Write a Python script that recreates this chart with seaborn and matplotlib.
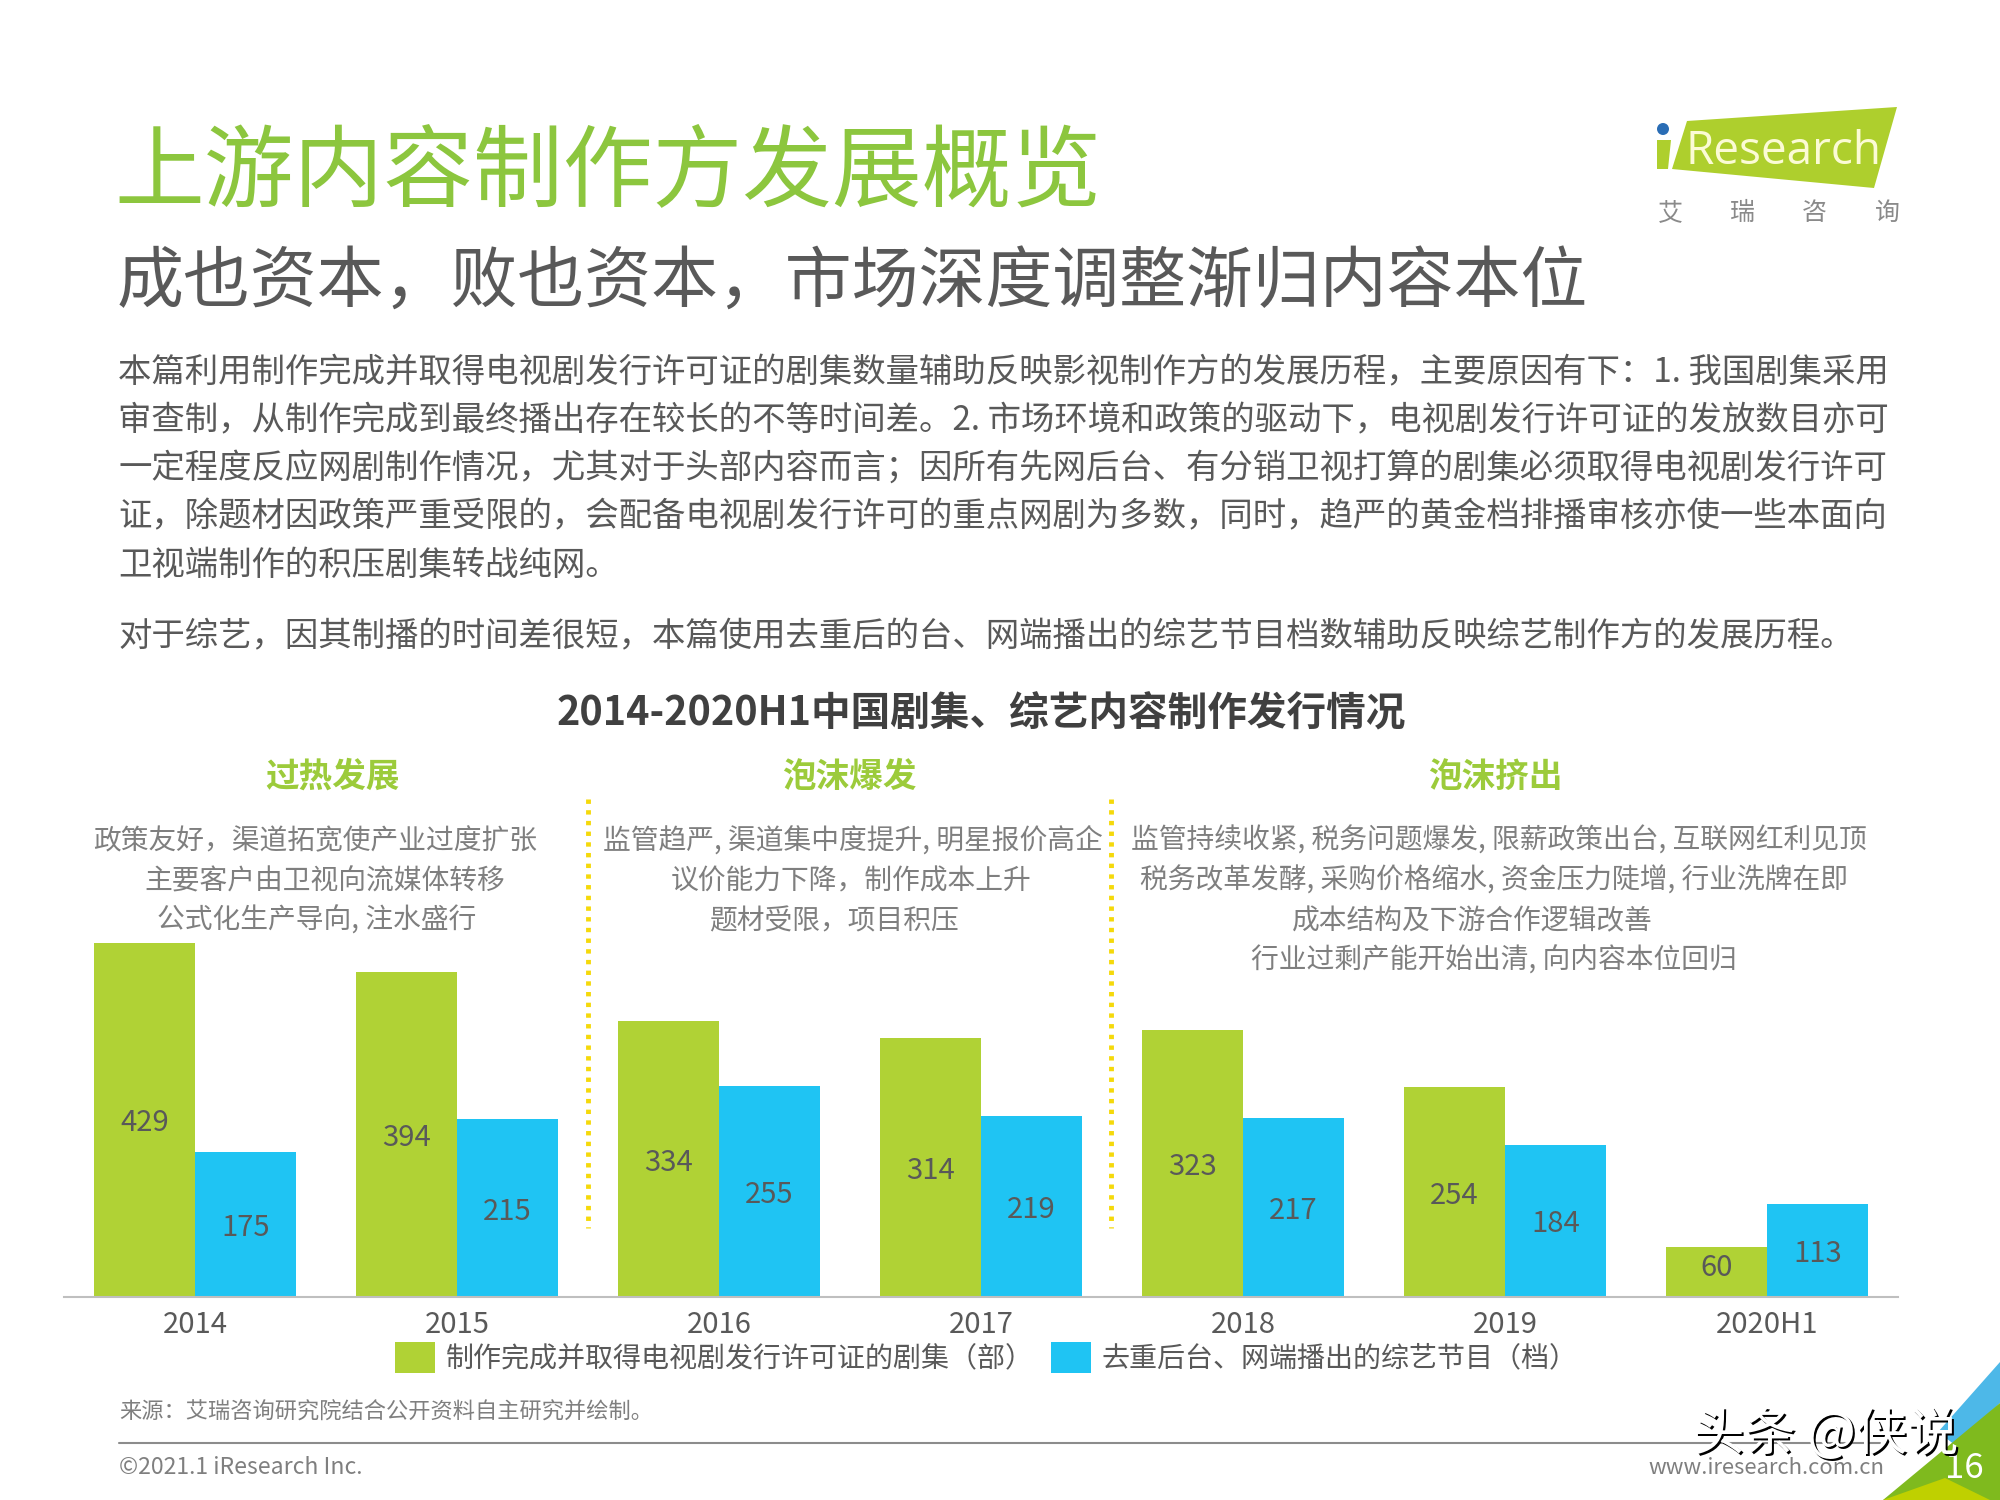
import pandas as pd
import matplotlib
matplotlib.use('Agg')
import matplotlib.pyplot as plt
import seaborn as sns
from matplotlib.patches import Polygon, Circle

years = ['2014', '2015', '2016', '2017', '2018', '2019', '2020H1']
series_names = ['制作完成并取得电视剧发行许可证的剧集（部）', '去重后台、网端播出的综艺节目（档）']
drama = [429, 394, 334, 314, 323, 254, 60]
variety = [175, 215, 255, 219, 217, 184, 113]

title = '上游内容制作方发展概览'
subtitle = '成也资本，败也资本，市场深度调整渐归内容本位'
body_lines = [
    '本篇利用制作完成并取得电视剧发行许可证的剧集数量辅助反映影视制作方的发展历程，主要原因有下：1. 我国剧集采用',
    '审查制，从制作完成到最终播出存在较长的不等时间差。2. 市场环境和政策的驱动下，电视剧发行许可证的发放数目亦可',
    '一定程度反应网剧制作情况，尤其对于头部内容而言；因所有先网后台、有分销卫视打算的剧集必须取得电视剧发行许可',
    '证，除题材因政策严重受限的，会配备电视剧发行许可的重点网剧为多数，同时，趋严的黄金档排播审核亦使一些本面向',
    '卫视端制作的积压剧集转战纯网。',
]
body_extra = '对于综艺，因其制播的时间差很短，本篇使用去重后的台、网端播出的综艺节目档数辅助反映综艺制作方的发展历程。'
chart_title = '2014-2020H1中国剧集、综艺内容制作发行情况'
stages = ['过热发展', '泡沫爆发', '泡沫挤出']
stage_lines = [
    ['政策友好，渠道拓宽使产业过度扩张', '主要客户由卫视向流媒体转移', '公式化生产导向, 注水盛行'],
    ['监管趋严, 渠道集中度提升, 明星报价高企', '议价能力下降，制作成本上升', '题材受限，项目积压'],
    ['监管持续收紧, 税务问题爆发, 限薪政策出台, 互联网红利见顶', '税务改革发酵, 采购价格缩水, 资金压力陡增, 行业洗牌在即',
     '成本结构及下游合作逻辑改善', '行业过剩产能开始出清, 向内容本位回归'],
]

GREEN = '#B0D235'
BLUE = '#1FC4F3'
TEXT = '#595959'

sns.set_theme(style='white')
plt.rcParams['font.family'] = ['Noto Sans CJK SC', 'DejaVu Sans']

df = pd.DataFrame({
    'year': years * 2,
    'value': drama + variety,
    'series': [series_names[0]] * len(years) + [series_names[1]] * len(years),
})

fig = plt.figure(figsize=(20, 15), dpi=100, facecolor='white')

# whole page layer in pixel coordinates, for the slide furniture
page = fig.add_axes([0, 0, 1, 1], zorder=0)
page.set_xlim(0, 2000)
page.set_ylim(1500, 0)
page.axis('off')

# chart: 1 unit = 0.826 px, baseline at y=1297
ax_left, ax_right, ax_bottom = 64, 1898, 1297
ymax = 450
ax_h = ymax * 0.826
ax = fig.add_axes([ax_left / 2000, 1 - ax_bottom / 1500, (ax_right - ax_left) / 2000, ax_h / 1500], zorder=1)
ax.patch.set_alpha(0)
sns.barplot(data=df, x='year', y='value', hue='series', palette=[GREEN, BLUE], width=0.77,
            saturation=1, linewidth=0, ax=ax, errorbar=None)
ax.set_xlim(-0.5, 6.5)
ax.set_ylim(0, ymax)
ax.set_xlabel('')
ax.set_ylabel('')
ax.set_yticks([])
ax.tick_params(axis='x', length=0, labelsize=21, labelcolor=TEXT, pad=9.5)
sns.despine(ax=ax, left=True)
ax.spines['bottom'].set_color('#BFBFBF')
ax.spines['bottom'].set_linewidth(1.5)
for cont in ax.containers:
    for lab in ax.bar_label(cont, label_type='center', fontsize=21, color=TEXT):
        # the 60 label sits a bit above the middle of its short bar
        lab.xyann = (0, 3) if lab.get_text() == '60' else (0, -2.5)

ax.legend(loc='upper left', bbox_to_anchor=(0.1805, -0.12), ncol=2, frameon=False, fontsize=20.2,
          labelcolor=TEXT, handlelength=1.43, handleheight=1.33, handletextpad=0.38, columnspacing=0.62,
          borderpad=0, borderaxespad=0)


def txt(x, y, s, size, color=TEXT, ha='left', weight='normal'):
    return page.text(x, y, s, fontsize=size, color=color, ha=ha, va='center', fontweight=weight)


txt(114, 174, title, 64.6, color='#8CC63E')
txt(117, 284, subtitle, 48.2)
for y, line in zip([373, 421, 468, 517, 565], body_lines):
    txt(118, y, line, 24.05)
txt(118, 637, body_extra, 24.05)
txt(981, 714, chart_title, 28.5, color='#404040', ha='center', weight='bold')

for x, s in zip([333, 849, 1495], stages):
    txt(x, 777, s, 24.2, color='#9CCB3B', ha='center', weight='bold')

stage_x = [[93, 144, 157], [603, 671, 709], [1131, 1140, 1292, 1251]]
stage_y = [841, 881, 921, 961]
for xs, lines in zip(stage_x, stage_lines):
    for x, y, line in zip(xs, stage_y, lines):
        txt(x, y, line, 20.0, color='#7F7F7F')

for x in [588, 1111]:
    page.plot([x, x], [799, 1228], color='#F5D90A', lw=3.5, linestyle=(0, (0.9, 1.3)))

# footer
txt(119, 1412, '来源：艾瑞咨询研究院结合公开资料自主研究并绘制。', 16, color='#7F7F7F')
page.plot([119, 1880], [1443, 1443], color='#8C8C8C', lw=1.5)
txt(119, 1467, '©2021.1 iResearch Inc.', 16.6, color='#7F7F7F')
txt(1648, 1468, 'www.iresearch.com.cn', 15.9, color='#7F7F7F')

# corner triangles
page.add_patch(Polygon([(2000, 1362), (1938, 1432), (1955, 1445), (2000, 1403)], color='#4DB8E8', lw=0))
page.add_patch(Polygon([(2000, 1403), (1883, 1500), (2000, 1500)], color='#7FBA1E', lw=0))
page.add_patch(Polygon([(1883, 1500), (1945, 1478), (1990, 1500)], color='#BFD000', lw=0))
txt(1964, 1468, '16', 25, color='white', ha='center')

# logo
page.add_patch(Polygon([(1687, 121), (1897, 107), (1874, 188), (1672, 169)], color='#AECF2D', lw=0))
page.add_patch(Polygon([(1657, 140), (1671, 140), (1668, 169), (1657, 169)], color='#AECF2D', lw=0))
page.add_patch(Circle((1663, 129), 6, color='#2A6DB5', lw=0))
page.text(1685, 152, 'Research', fontsize=33, color='#FBFBD5', family='Open Sans', va='center')
for x, s in zip([1670, 1742, 1814, 1887], '艾瑞咨询'):
    txt(x, 213, s, 18, color='#8A8A8A', ha='center')

# watermark
txt(1695, 1437, '头条 @侠说', 37, color='black')
txt(1693, 1435, '头条 @侠说', 37, color='white')

fig.savefig('out.png', dpi=100)
